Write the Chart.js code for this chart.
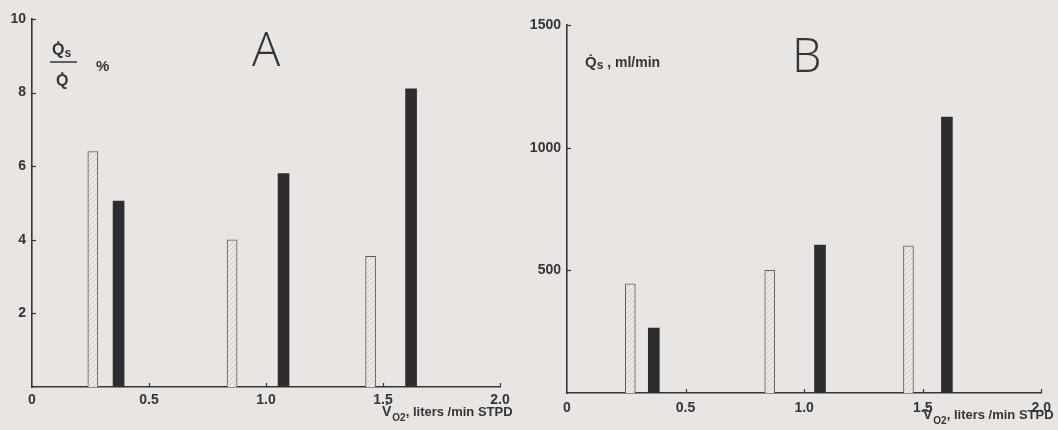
<!DOCTYPE html>
<html><head><meta charset="utf-8">
<script src="https://cdn.jsdelivr.net/npm/chart.js@4.4.1/dist/chart.umd.min.js"></script>
<style>
html,body{margin:0;padding:0;background:#e8e5e2;}
#wrap{position:relative;width:1058px;height:430px;overflow:hidden;background:#e8e5e2;}
.p{position:absolute;top:0;height:430px;}
canvas{display:block;}
</style></head><body>
<div id="wrap">
  <div class="p" style="left:0;width:520px"><canvas id="cA" width="520" height="430"></canvas></div>
  <div class="p" style="left:520px;width:538px"><canvas id="cB" width="538" height="430"></canvas></div>
</div>
<script>
// ---- data ----
const xTickValues = [0, 0.5, 1.0, 1.5, 2.0];
const xTickLabels = ['0', '0.5', '1.0', '1.5', '2.0'];
const yTickValuesA = [2, 4, 6, 8, 10];
const yTickValuesB = [500, 1000, 1500];

// Panel A : Qs/Q (%) vs VO2
const vo2OpenA = [0.26, 0.855, 1.447];
const vo2SolidA = [0.37, 1.075, 1.62];
const shuntPctOpen = [6.4, 4.0, 3.55];
const shuntPctSolid = [5.05, 5.8, 8.1];

// Panel B : Qs (ml/min) vs VO2
const vo2OpenB = [0.267, 0.855, 1.44];
const vo2SolidB = [0.366, 1.067, 1.602];
const shuntFlowOpen = [445, 500, 600];
const shuntFlowSolid = [265, 603, 1125];

// ---- text ----
const panelLetters = ['A', 'B'];
const xTitleParts = ['V\u0307', 'O2', ', liters /min STPD'];
const yTitleA = ['Q\u0307', 's', 'Q\u0307', '%'];
const yTitleB = ['Q\u0307', 's', ' , ml/min'];

const INK = '#353437';
const FAM = '"Liberation Sans", Arial, sans-serif';

function hatchPattern() {
  const c = document.createElement('canvas');
  c.width = 5; c.height = 5;
  const g = c.getContext('2d');
  g.fillStyle = '#ebe8e5'; g.fillRect(0, 0, 5, 5);
  g.strokeStyle = 'rgba(120,118,116,0.35)'; g.lineWidth = 0.8;
  g.beginPath(); g.moveTo(0, 5); g.lineTo(5, 0); g.stroke();
  return g.createPattern(c, 'repeat');
}

function innerTicks(chart, yVals) {
  const {ctx, chartArea, scales} = chart;
  ctx.save();
  ctx.strokeStyle = INK; ctx.lineWidth = 1.2;
  yVals.forEach(v => {
    const y = Math.round(scales.y.getPixelForValue(v)) + 0.5;
    ctx.beginPath(); ctx.moveTo(chartArea.left, y); ctx.lineTo(chartArea.left + 4, y); ctx.stroke();
  });
  xTickValues.slice(1).forEach(v => {
    const x = Math.round(scales.x.getPixelForValue(v)) + 0.5;
    ctx.beginPath(); ctx.moveTo(x, chartArea.bottom); ctx.lineTo(x, chartArea.bottom - 4); ctx.stroke();
  });
  ctx.restore();
}

function txt(ctx, s, x, y, font) {
  ctx.font = font; ctx.textAlign = 'left'; ctx.textBaseline = 'alphabetic';
  ctx.fillText(s, x, y);
  return x + ctx.measureText(s).width;
}

function xTitle(ctx, x0, base) {
  let x = txt(ctx, xTitleParts[0], x0, base, 'bold 14px ' + FAM);
  x = txt(ctx, xTitleParts[1], x + 1, base + 5, 'bold 10px ' + FAM);
  txt(ctx, xTitleParts[2], x, base, 'bold 13px ' + FAM);
}

const LETTERFONT = '300 47px "Open Sans", "DejaVu Sans", sans-serif';

const annotA = {
  id: 'annotA',
  afterDraw(chart) {
    const ctx = chart.ctx;
    innerTicks(chart, yTickValuesA);
    ctx.save(); ctx.fillStyle = INK;
    txt(ctx, panelLetters[0], 252, 66, LETTERFONT);
    let x = txt(ctx, yTitleA[0], 52, 55, 'bold 16px ' + FAM);
    txt(ctx, yTitleA[1], x, 57, 'bold 12px ' + FAM);
    ctx.strokeStyle = INK; ctx.lineWidth = 1.5;
    ctx.beginPath(); ctx.moveTo(50, 62); ctx.lineTo(77, 62); ctx.stroke();
    txt(ctx, yTitleA[2], 56, 86, 'bold 16px ' + FAM);
    txt(ctx, yTitleA[3], 96, 71, 'bold 15px ' + FAM);
    xTitle(ctx, 382, 416);
    ctx.restore();
  }
};
const annotB = {
  id: 'annotB',
  afterDraw(chart) {
    const ctx = chart.ctx;
    innerTicks(chart, yTickValuesB);
    ctx.save(); ctx.fillStyle = INK;
    txt(ctx, panelLetters[1], 272, 72, LETTERFONT);
    let x = txt(ctx, yTitleB[0], 65, 67, 'bold 15px ' + FAM);
    x = txt(ctx, yTitleB[1], x, 69, 'bold 12px ' + FAM);
    txt(ctx, yTitleB[2], x, 67, 'bold 14px ' + FAM);
    xTitle(ctx, 403, 419);
    ctx.restore();
  }
};

function makeChart(id, o) {
  const pat = hatchPattern();
  return new Chart(document.getElementById(id), {
    type: 'bar',
    data: {
      datasets: [
        { data: o.xo.map((x, i) => ({x: x, y: o.yo[i]})), backgroundColor: pat, borderColor: '#5e5c5c',
          borderWidth: 1, barThickness: 10, grouped: false, borderSkipped: 'bottom' },
        { data: o.xs.map((x, i) => ({x: x, y: o.ys[i]})), backgroundColor: '#2d2c2f', borderWidth: 0,
          barThickness: 11, grouped: false }
      ]
    },
    options: {
      responsive: false, animation: false,
      layout: { padding: o.pad },
      plugins: { legend: { display: false }, tooltip: { enabled: false } },
      scales: {
        x: {
          type: 'linear', min: 0, max: 2, offset: false,
          grid: { display: false, drawTicks: false, tickLength: 0 },
          border: { display: true, color: INK, width: 1.6 },
          afterBuildTicks: s => { s.ticks = xTickValues.map(v => ({value: v})); },
          afterFit: s => { s.height = o.xh; },
          ticks: { color: INK, font: { family: FAM, size: 14, weight: 'bold' },
                   padding: o.xpad, maxRotation: 0, autoSkip: false,
                   callback: (v, i) => xTickLabels[i] }
        },
        y: {
          min: 0, max: o.ymax,
          grid: { display: false, drawTicks: false, tickLength: 0 },
          border: { display: true, color: INK, width: 1.6 },
          afterBuildTicks: s => { s.ticks = o.yt.map(v => ({value: v})); },
          afterFit: s => { s.width = o.yw; },
          ticks: { color: INK, font: { family: FAM, size: 14, weight: 'bold' },
                   padding: 6, autoSkip: false, callback: (v) => String(v) }
        }
      }
    },
    plugins: [o.annot]
  });
}

makeChart('cA', { xo: vo2OpenA, yo: shuntPctOpen, xs: vo2SolidA, ys: shuntPctSolid, yt: yTickValuesA,
  ymax: 10, yw: 32, xh: 43, xpad: 5, pad: {top: 19, right: 20, left: 0, bottom: 0}, annot: annotA });
makeChart('cB', { xo: vo2OpenB, yo: shuntFlowOpen, xs: vo2SolidB, ys: shuntFlowSolid, yt: yTickValuesB,
  ymax: 1500, yw: 47, xh: 37, xpad: 7, pad: {top: 25, right: 16, left: 0, bottom: 0}, annot: annotB });
</script>
</body></html>
